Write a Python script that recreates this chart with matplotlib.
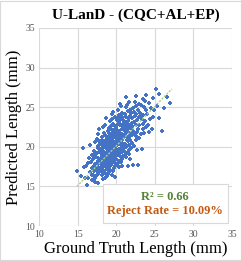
import matplotlib.pyplot as plt
from matplotlib.patches import Rectangle

# (ground truth, predicted) pairs, in mm
points = [
    (14.9, 17.0), (15.7, 19.9), (15.4, 16.3), (15.8, 17.4), (15.9, 16.1),
    (16.2, 15.2), (16.3, 17.9), (16.5, 18.6), (16.6, 16.8), (16.8, 17.3), (16.9, 19.0),
    (16.4, 16.0), (16.7, 18.1), (16.1, 17.6), (16.9, 15.8), (16.6, 20.2), (16.8, 16.4),
    (17.0, 18.4), (17.1, 16.9), (17.1, 19.5), (17.2, 17.8), (17.2, 15.6), (17.3, 18.9),
    (17.3, 20.6), (17.4, 17.2), (17.4, 16.3), (17.5, 19.2), (17.5, 18.0), (17.5, 21.0),
    (17.6, 17.5), (17.6, 19.8), (17.6, 16.6), (17.7, 18.6), (17.7, 20.1), (17.7, 15.4),
    (17.8, 17.9), (17.8, 19.3), (17.8, 22.3), (17.9, 16.9), (17.9, 18.3), (17.9, 20.5),
    (17.2, 19.1), (17.4, 18.7), (17.6, 18.2), (17.8, 17.1), (17.1, 17.6), (17.3, 16.1),
    (17.5, 17.0), (17.7, 21.6), (17.9, 19.7), (17.0, 16.4), (17.6, 20.9),
    (18.0, 18.5), (18.0, 17.3), (18.0, 20.3), (18.1, 19.1), (18.1, 16.5), (18.1, 18.0),
    (18.2, 21.2), (18.2, 17.7), (18.2, 19.6), (18.3, 18.3), (18.3, 15.9), (18.3, 20.0),
    (18.3, 22.5), (18.4, 17.0), (18.4, 18.9), (18.4, 19.4), (18.5, 17.6), (18.5, 20.7),
    (18.5, 18.4), (18.5, 16.7), (18.6, 19.0), (18.6, 21.5), (18.6, 17.9), (18.6, 18.6),
    (18.7, 20.2), (18.7, 17.4), (18.7, 19.8), (18.7, 23.6), (18.8, 18.1), (18.8, 16.3),
    (18.8, 19.3), (18.8, 21.0), (18.9, 17.8), (18.9, 18.8), (18.9, 20.5), (18.9, 22.0),
    (18.0, 19.4), (18.1, 17.9), (18.2, 18.8), (18.3, 19.2), (18.4, 20.6), (18.5, 19.0),
    (18.6, 16.0), (18.7, 18.5), (18.8, 20.0), (18.9, 19.5), (18.4, 21.8), (18.6, 20.4),
    (18.2, 16.9), (18.8, 17.2), (18.5, 22.8), (18.9, 16.6), (18.3, 17.5), (18.7, 21.3),
    (18.1, 20.8),
    (19.0, 19.1), (19.0, 17.4), (19.0, 21.4), (19.0, 20.2), (19.1, 18.6), (19.1, 22.4),
    (19.1, 19.7), (19.1, 16.8), (19.2, 20.5), (19.2, 18.2), (19.2, 23.2), (19.2, 19.3),
    (19.3, 17.7), (19.3, 21.0), (19.3, 19.9), (19.3, 18.9), (19.4, 22.1), (19.4, 20.3),
    (19.4, 18.4), (19.4, 16.5), (19.5, 19.5), (19.5, 21.7), (19.5, 17.9), (19.5, 20.8),
    (19.6, 18.7), (19.6, 24.4), (19.6, 20.1), (19.6, 19.2), (19.7, 22.7), (19.7, 17.3),
    (19.7, 21.2), (19.7, 19.8), (19.8, 18.3), (19.8, 20.6), (19.8, 23.8), (19.8, 19.4),
    (19.9, 21.9), (19.9, 17.6), (19.9, 20.0), (19.9, 18.8), (19.0, 18.0), (19.1, 20.9),
    (19.2, 21.6), (19.3, 20.4), (19.4, 19.6), (19.5, 18.1), (19.6, 22.9), (19.7, 20.4),
    (19.8, 21.5), (19.9, 19.1), (19.2, 17.1), (19.4, 23.5), (19.6, 17.0), (19.8, 16.2),
    (19.3, 22.6), (19.5, 20.3), (19.7, 18.5), (19.9, 22.3), (19.1, 21.8), (19.5, 24.1),
    (19.0, 20.6), (19.8, 17.9), (19.4, 21.3), (19.6, 21.1), (19.2, 19.9),
    (20.0, 20.1), (20.0, 18.5), (20.0, 22.5), (20.0, 21.2), (20.1, 19.4), (20.1, 23.4),
    (20.1, 20.7), (20.1, 17.8), (20.2, 21.6), (20.2, 19.0), (20.2, 24.6), (20.2, 20.3),
    (20.3, 18.2), (20.3, 22.0), (20.3, 20.9), (20.3, 19.7), (20.4, 23.1), (20.4, 21.3),
    (20.4, 19.2), (20.4, 17.4), (20.5, 20.5), (20.5, 22.8), (20.5, 18.8), (20.5, 21.8),
    (20.6, 19.6), (20.6, 25.2), (20.6, 21.0), (20.6, 20.2), (20.7, 23.7), (20.7, 18.4),
    (20.7, 22.2), (20.7, 20.8), (20.8, 19.3), (20.8, 21.5), (20.8, 24.3), (20.8, 20.4),
    (20.9, 22.9), (20.9, 18.9), (20.9, 21.1), (20.9, 19.9), (20.0, 19.6), (20.1, 22.1),
    (20.2, 22.9), (20.3, 21.4), (20.4, 20.6), (20.5, 19.3), (20.6, 23.5), (20.7, 21.6),
    (20.8, 22.6), (20.9, 20.3), (20.2, 17.9), (20.4, 24.0), (20.6, 18.1), (20.8, 17.6),
    (20.3, 23.8), (20.5, 21.3), (20.7, 19.8), (20.9, 23.4), (20.1, 21.0), (20.5, 25.4),
    (21.0, 21.3), (21.0, 19.5), (21.0, 23.3), (21.1, 22.0), (21.1, 20.4), (21.1, 24.2),
    (21.2, 21.7), (21.2, 18.7), (21.2, 22.6), (21.3, 20.0), (21.3, 25.0), (21.3, 21.4),
    (21.4, 19.2), (21.4, 23.0), (21.4, 22.1), (21.5, 20.7), (21.5, 24.5), (21.5, 21.9),
    (21.5, 17.6), (21.6, 22.8), (21.6, 20.2), (21.6, 23.6), (21.7, 21.2), (21.7, 19.6),
    (21.7, 25.6), (21.8, 22.4), (21.8, 20.9), (21.8, 23.9), (21.9, 21.6), (21.9, 19.9),
    (21.9, 22.9), (21.0, 22.5), (21.2, 23.8), (21.4, 20.9), (21.6, 21.4), (21.8, 24.7),
    (21.1, 19.0), (21.3, 22.3), (21.5, 23.3), (21.7, 22.5), (21.9, 24.3), (21.2, 26.3),
    (21.6, 19.1), (21.4, 25.3), (21.8, 18.5),
    (22.0, 22.4), (22.0, 20.5), (22.1, 23.6), (22.1, 21.5), (22.2, 24.9), (22.2, 22.0),
    (22.3, 20.1), (22.3, 23.1), (22.4, 21.8), (22.4, 25.7), (22.5, 22.7), (22.5, 20.8),
    (22.6, 24.1), (22.6, 26.4), (22.6, 21.4), (22.7, 23.4), (22.7, 19.6), (22.8, 22.2),
    (22.8, 24.6), (22.9, 21.1), (22.9, 23.8), (22.0, 23.0), (22.2, 17.7), (22.4, 23.9),
    (22.5, 25.1), (22.7, 21.9), (22.8, 17.7), (22.3, 24.4), (22.9, 25.4), (22.1, 22.6),
    (23.0, 22.8), (23.1, 24.3), (23.2, 21.6), (23.2, 25.3), (23.3, 23.5), (23.4, 22.2),
    (23.4, 26.0), (23.5, 24.0), (23.6, 21.7), (23.6, 25.0), (23.7, 23.2), (23.8, 24.7),
    (23.9, 22.5), (23.9, 26.5), (23.3, 19.7), (23.5, 22.9), (23.7, 25.8), (23.1, 23.7),
    (24.0, 24.2), (24.1, 22.7), (24.3, 25.5), (24.4, 23.5), (24.5, 24.9), (24.6, 22.3),
    (24.7, 26.2), (24.8, 23.8), (24.9, 24.6), (24.2, 21.9),
    (25.1, 27.3), (25.3, 25.1), (25.6, 23.6), (25.9, 22.0), (26.6, 26.3), (27.0, 25.5),
    (25.5, 26.6), (26.2, 24.9),
]
ground_truth = [p[0] for p in points]
predicted = [p[1] for p in points]

# linear trendline (as drawn in the chart)
trend_x = [14.9, 27.2]
trend_slope = 1.0
trend_intercept = 0.1

axis_ticks = [10, 15, 20, 25, 30, 35]
title = 'U-LanD - (CQC+AL+EP)'
r2_text = 'R² = 0.66'
reject_text = 'Reject Rate = 10.09%'

plt.rcParams['font.family'] = ['Liberation Serif', 'DejaVu Serif']

fig = plt.figure(figsize=(2.41, 2.61), dpi=100)
ax = fig.add_axes([0.162, 0.134, 0.801, 0.759])

ax.scatter(ground_truth, predicted, marker='P', s=5, color='#4472C4',
           linewidths=0, zorder=3)
trend_y = [trend_slope * x + trend_intercept for x in trend_x]
ax.plot(trend_x, trend_y, color='#A9D18E', linestyle=(0, (1.5, 1)),
        linewidth=1.0, zorder=4)

ax.set_xlim(10, 35)
ax.set_ylim(10, 35)
ax.set_xticks(axis_ticks)
ax.set_yticks(axis_ticks)
ax.grid(True, color='#D9D9D9', linewidth=0.8)
ax.set_axisbelow(True)
for s in ax.spines.values():
    s.set_visible(False)
ax.tick_params(length=0, labelsize=7, labelcolor='#595959', pad=3)

ax.set_xlabel('Ground Truth Length (mm)', fontsize=12, labelpad=1)
ax.set_ylabel('Predicted Length (mm)', fontsize=12, labelpad=2)
fig.text(0.565, 0.94, title, ha='center', va='center', fontsize=11,
         fontweight='bold')

# annotation box with R^2 and reject rate
box = Rectangle((0.331, 0.016), 0.649, 0.196, transform=ax.transAxes,
                facecolor='white', edgecolor='#D9D9D9', linewidth=0.8, zorder=5)
ax.add_patch(box)
ax.text(0.653, 0.146, r2_text, transform=ax.transAxes, ha='center', va='center',
        fontsize=9, fontweight='bold', color='#548235', zorder=6)
ax.text(0.653, 0.076, reject_text, transform=ax.transAxes, ha='center', va='center',
        fontsize=9, fontweight='bold', color='#C55A11', zorder=6)

# light frame round the whole chart
fig.patches.append(Rectangle((0.002, 0.002), 0.996, 0.996, transform=fig.transFigure,
                             fill=False, edgecolor='#D9D9D9', linewidth=0.8))

fig.savefig('out.png', dpi=100)
